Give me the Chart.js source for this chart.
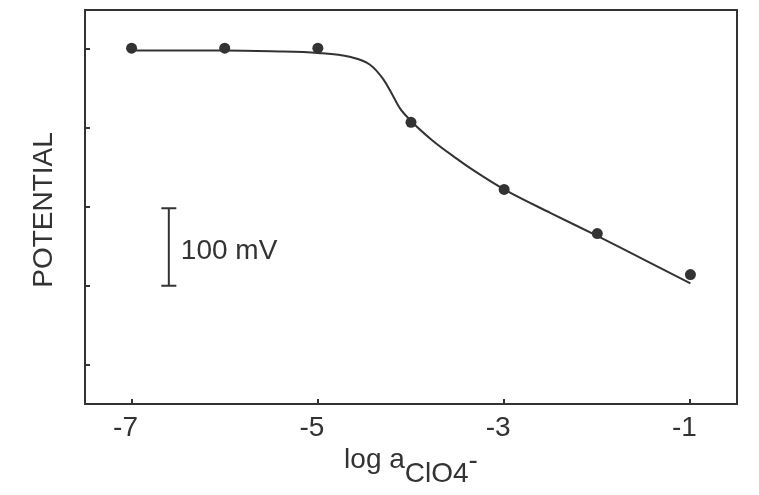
<!DOCTYPE html>
<html>
<head>
<meta charset="utf-8">
<script src="https://cdn.jsdelivr.net/npm/chart.js@4"></script>
<style>
  body { margin: 0; background: #fff; }
</style>
</head>
<body>
<canvas id="potentialChart" width="759" height="495"></canvas>
<script>
// measured points (log a, potential in mV, relative)
const logA = [-7, -6, -5, -4, -3, -2, -1];
const potential = [401, 401, 401, 307, 222, 166, 114];

// fitted curve
const curveX = [-7, -6, -5.5, -5.0, -4.66, -4.44, -4.30, -4.20, -4.12, -4.01, -3.77, -3.51, -3.34, -3.0, -2.5, -2.0, -1.5, -1.0];
const curveY = [398, 398, 397, 395, 390, 380, 362, 342, 325, 310, 284, 261, 247, 222, 192, 163, 133, 103];

// 100 mV scale bar
const barX = -6.6;
const barY = [100, 198];

const xTicks = [-7, -5, -3, -1];
const yTicks = [0, 100, 200, 300, 400];

const ink = '#333333';
const fontFamily = '"Liberation Sans", Arial, sans-serif';

const textPlugin = {
    id: 'texts',
    afterDraw(chart) {
        const { ctx, chartArea, scales } = chart;
        ctx.save();
        ctx.fillStyle = ink;
        ctx.font = '28px ' + fontFamily;

        // scale bar label
        ctx.textAlign = 'left';
        ctx.textBaseline = 'alphabetic';
        ctx.fillText('100 mV', scales.x.getPixelForValue(barX) + 12, 259);

        // x label: log a_ClO4^-
        const parts = [['log a', 0], ['ClO4', 14], ['-', 1]];
        const total = parts.reduce((s, p) => s + ctx.measureText(p[0]).width, 0);
        let x = (chartArea.left + chartArea.right) / 2 - total / 2;
        const base = chartArea.bottom + 64;
        parts.forEach(([t, dy]) => {
            ctx.fillText(t, x, base + dy);
            x += ctx.measureText(t).width;
        });

        // y label
        ctx.translate(44, 210);
        ctx.rotate(-Math.PI / 2);
        ctx.textAlign = 'center';
        ctx.textBaseline = 'middle';
        ctx.fillText('POTENTIAL', 0, 0);
        ctx.restore();
    }
};

const config = {
    type: 'line',
    data: {
        datasets: [
            {
                label: 'curve',
                data: curveX.map((v, i) => ({ x: v, y: curveY[i] })),
                borderColor: ink,
                borderWidth: 2,
                pointRadius: 0,
                cubicInterpolationMode: 'monotone'
            },
            {
                label: 'measured',
                data: logA.map((v, i) => ({ x: v, y: potential[i] })),
                showLine: false,
                pointRadius: 5.5,
                backgroundColor: ink,
                borderColor: ink,
                borderWidth: 0
            },
            {
                label: 'scale bar',
                data: barY.map(v => ({ x: barX, y: v })),
                borderColor: ink,
                borderWidth: 2,
                pointStyle: 'line',
                pointRadius: 7.5,
                pointBorderWidth: 2,
                pointBorderColor: ink
            }
        ]
    },
    options: {
        responsive: false,
        animation: false,
        layout: { padding: 0 },
        plugins: {
            legend: { display: false },
            tooltip: { enabled: false }
        },
        scales: {
            x: {
                type: 'linear',
                position: 'bottom',
                min: -7.5,
                max: -0.5,
                afterBuildTicks: (s) => { s.ticks = xTicks.map(v => ({ value: v })); },
                afterFit: (s) => { s.height = 91; },
                ticks: {
                    color: ink,
                    font: { family: fontFamily, size: 28 },
                    padding: 12,
                    labelOffset: -6,
                    maxRotation: 0
                },
                grid: { drawOnChartArea: false, drawTicks: true, tickLength: -5, color: ink, lineWidth: 2 },
                border: { color: ink, width: 2 }
            },
            y: {
                type: 'linear',
                position: 'left',
                min: -50,
                max: 450,
                afterBuildTicks: (s) => { s.ticks = yTicks.map(v => ({ value: v })); },
                afterFit: (s) => { s.width = 85; },
                ticks: { display: false },
                grid: { drawOnChartArea: false, drawTicks: true, tickLength: -5, color: ink, lineWidth: 2 },
                border: { color: ink, width: 2 }
            },
            x2: {
                type: 'linear',
                position: 'top',
                afterFit: (s) => { s.height = 7; },
                ticks: { display: false },
                grid: { drawOnChartArea: false, drawTicks: false },
                border: { color: ink, width: 2 }
            },
            y2: {
                type: 'linear',
                position: 'right',
                afterFit: (s) => { s.width = 22; },
                ticks: { display: false },
                grid: { drawOnChartArea: false, drawTicks: false },
                border: { color: ink, width: 2 }
            }
        }
    },
    plugins: [textPlugin]
};

const potentialChart = new Chart(document.getElementById('potentialChart'), config);
</script>
</body>
</html>
